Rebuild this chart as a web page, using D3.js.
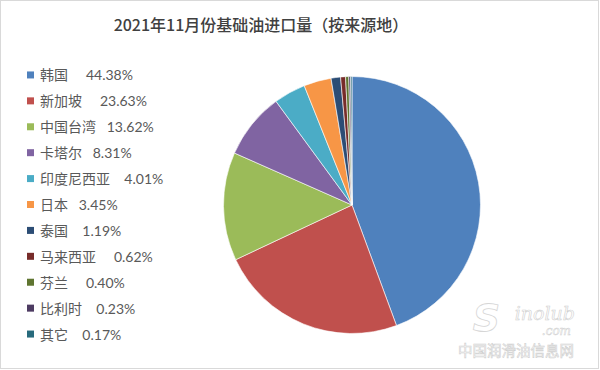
<!DOCTYPE html>
<html><head><meta charset="utf-8">
<script src="https://cdn.jsdelivr.net/npm/d3@7"></script>
<style>body{margin:0;background:#fff}svg{display:block}</style>
</head><body>
<svg id="c" width="600" height="370"></svg>
<script>
const title = "2021年11月份基础油进口量（按来源地）";
const categories = ["韩国","新加坡","中国台湾","卡塔尔","印度尼西亚","日本","泰国","马来西亚","芬兰","比利时","其它"];
const values = [44.38,23.63,13.62,8.31,4.01,3.45,1.19,0.62,0.40,0.23,0.17];
const gaps = ["     ","     ","   ","   ","    ","   ","    ","     ","     ","    ","    "];
const colors = ["#4F81BD","#C0504D","#9BBB59","#8064A2","#4BACC6","#F79646","#2C4D75","#772C2A","#5F7530","#4D3B62","#276A7C"];

const svg = d3.select("#c");
svg.append("rect").attr("x",0.5).attr("y",0.5).attr("width",598).attr("height",368)
  .attr("fill","#fff").attr("stroke","#d9d9d9");

svg.append("text").attr("x",261).attr("y",31).attr("text-anchor","middle")
  .attr("font-family","'Noto Sans CJK SC'").attr("font-size",16).attr("font-weight",500)
  .attr("fill","#404040").text(title);

const data = categories.map((c,i)=>({c, v: values[i], col: colors[i], gap: gaps[i]}));
const pie = d3.pie().value(d=>d.v).sort(null);
const arc = d3.arc().innerRadius(0).outerRadius(128.5);
const g = svg.append("g").attr("transform","translate(352,205)");
g.selectAll("path").data(pie(data)).join("path")
  .attr("d",arc).attr("fill",d=>d.data.col).attr("stroke","#fff").attr("stroke-width",0.6);

const y = d3.scaleBand().domain(categories).range([62,347]);
const lg = svg.append("g");
const items = lg.selectAll("g").data(data).join("g")
  .attr("transform",d=>`translate(27,${y(d.c)+y.bandwidth()/2})`);
items.append("rect").attr("x",0).attr("y",-3.5).attr("width",7).attr("height",7).attr("fill",d=>d.col);
items.append("text").attr("x",13).attr("y",5.5).attr("xml:space","preserve").style("white-space","pre")
  .attr("font-family","Lato, 'Noto Sans CJK SC'").attr("font-size",14).attr("fill","#595959")
  .text(d=>d.c+d.gap+d.v.toFixed(2)+"%");

// watermark
const wm = svg.append("g");
wm.append("text").attr("x",500).attr("y",331).attr("text-anchor","end")
  .attr("font-family","'DejaVu Sans'").attr("font-style","italic").attr("font-weight","bold")
  .attr("font-size",38).attr("fill","#fff").attr("stroke","#d6d6d6").attr("stroke-width",0.8).text("S");
wm.append("text").attr("x",575).attr("y",320).attr("text-anchor","end")
  .attr("font-family","'DejaVu Serif'").attr("font-style","italic")
  .attr("font-size",19).attr("fill","#fff").attr("stroke","#cfcfcf").attr("stroke-width",0.6).text("inolub");
wm.append("text").attr("x",571).attr("y",335).attr("text-anchor","end")
  .attr("font-family","'DejaVu Serif'").attr("font-style","italic")
  .attr("font-size",12).attr("fill","#fff").attr("stroke","#cfcfcf").attr("stroke-width",0.5).text(".com");
wm.append("text").attr("x",574).attr("y",356).attr("text-anchor","end")
  .attr("font-family","'Noto Sans CJK SC'").attr("font-size",14.5)
  .attr("fill","#fff").attr("stroke","#cfcfcf").attr("stroke-width",0.6).text("中国润滑油信息网");
</script>
</body></html>
